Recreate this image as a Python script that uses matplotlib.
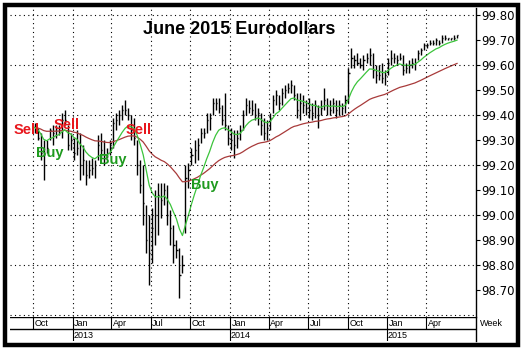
import pandas as pd
import matplotlib
matplotlib.use('Agg')
import matplotlib.pyplot as plt
import matplotlib.dates as mdates
from matplotlib.patches import Rectangle

# weekly bars, June 2015 Eurodollar futures
first_week = '2012-10-05'
highs = [99.37, 99.35, 99.33, 99.30, 99.30, 99.35, 99.36, 99.36, 99.36, 99.41,
         99.42, 99.36, 99.33, 99.31, 99.34, 99.33, 99.28, 99.22, 99.22, 99.23,
         99.22, 99.32, 99.33, 99.30, 99.27, 99.30, 99.39, 99.41, 99.42, 99.44,
         99.46, 99.43, 99.40, 99.39, 99.30, 99.22, 99.20, 99.04, 99.00, 99.03,
         99.10, 99.13, 99.13, 99.13, 99.12, 99.02, 98.96, 98.90, 98.87, 98.84,
         99.20, 99.21, 99.27, 99.30, 99.31, 99.35, 99.35, 99.41, 99.41, 99.47,
         99.47, 99.47, 99.44, 99.49, 99.36, 99.35, 99.34, 99.34, 99.36, 99.42,
         99.47, 99.46, 99.46, 99.45, 99.43, 99.41, 99.39, 99.38, 99.41, 99.48,
         99.50, 99.48, 99.51, 99.52, 99.53, 99.54, 99.52, 99.49, 99.49, 99.48,
         99.46, 99.47, 99.45, 99.46, 99.44, 99.46, 99.51, 99.47, 99.46, 99.47,
         99.46, 99.46, 99.45, 99.48, 99.59, 99.67, 99.64, 99.65, 99.63, 99.64,
         99.65, 99.67, 99.65, 99.60, 99.60, 99.61, 99.58, 99.63, 99.66, 99.65,
         99.64, 99.65, 99.64, 99.61, 99.62, 99.63, 99.63, 99.66, 99.67, 99.69,
         99.69, 99.70, 99.70, 99.71, 99.70, 99.72, 99.72, 99.71, 99.71, 99.72,
         99.72]
lows = [99.33, 99.30, 99.22, 99.14, 99.25, 99.30, 99.28, 99.31, 99.32, 99.31,
        99.36, 99.26, 99.26, 99.22, 99.24, 99.14, 99.16, 99.12, 99.15, 99.16,
        99.15, 99.22, 99.23, 99.20, 99.23, 99.24, 99.27, 99.34, 99.36, 99.38,
        99.40, 99.38, 99.30, 99.28, 99.16, 99.09, 98.96, 98.85, 98.72, 98.81,
        98.88, 98.92, 98.99, 99.04, 98.96, 98.88, 98.81, 98.83, 98.67, 98.77,
        98.93, 99.11, 99.20, 99.21, 99.22, 99.29, 99.31, 99.33, 99.34, 99.40,
        99.42, 99.41, 99.36, 99.34, 99.28, 99.26, 99.23, 99.27, 99.30, 99.34,
        99.40, 99.41, 99.40, 99.38, 99.36, 99.32, 99.30, 99.30, 99.34, 99.41,
        99.44, 99.42, 99.44, 99.47, 99.49, 99.49, 99.46, 99.39, 99.38, 99.41,
        99.40, 99.39, 99.38, 99.39, 99.35, 99.40, 99.42, 99.40, 99.40, 99.41,
        99.39, 99.40, 99.40, 99.41, 99.45, 99.59, 99.59, 99.60, 99.59, 99.58,
        99.61, 99.60, 99.55, 99.53, 99.54, 99.53, 99.52, 99.56, 99.60, 99.61,
        99.60, 99.62, 99.56, 99.57, 99.57, 99.59, 99.58, 99.62, 99.64, 99.66,
        99.67, 99.68, 99.68, 99.68, 99.68, 99.69, 99.70, 99.70, 99.70, 99.70,
        99.71]
closes = [99.35, 99.31, 99.25, 99.20, 99.27, 99.34, 99.33, 99.35, 99.34, 99.38,
          99.38, 99.28, 99.30, 99.25, 99.27, 99.20, 99.22, 99.16, 99.18, 99.19,
          99.20, 99.28, 99.26, 99.24, 99.25, 99.28, 99.37, 99.38, 99.40, 99.42,
          99.42, 99.40, 99.34, 99.31, 99.20, 99.12, 99.05, 98.90, 98.85, 98.95,
          99.00, 99.08, 99.06, 99.10, 99.00, 98.95, 98.88, 98.86, 98.76, 98.80,
          99.15, 99.18, 99.24, 99.26, 99.28, 99.33, 99.33, 99.38, 99.39, 99.45,
          99.45, 99.43, 99.38, 99.36, 99.31, 99.30, 99.28, 99.31, 99.34, 99.40,
          99.44, 99.43, 99.42, 99.40, 99.41, 99.36, 99.33, 99.35, 99.39, 99.46,
          99.48, 99.45, 99.49, 99.50, 99.51, 99.52, 99.48, 99.42, 99.45, 99.44,
          99.43, 99.42, 99.41, 99.44, 99.40, 99.43, 99.46, 99.44, 99.42, 99.45,
          99.42, 99.44, 99.43, 99.46, 99.57, 99.63, 99.62, 99.61, 99.60, 99.62,
          99.63, 99.64, 99.58, 99.56, 99.56, 99.55, 99.56, 99.61, 99.63, 99.63,
          99.62, 99.63, 99.58, 99.59, 99.60, 99.61, 99.61, 99.65, 99.66, 99.68,
          99.68, 99.69, 99.69, 99.70, 99.69, 99.71, 99.71, 99.71, 99.71, 99.71,
          99.72]

sell_dates = ['2012-09-17', '2012-12-19', '2013-06-04']
sell_prices = [99.34, 99.36, 99.34]
buy_dates = ['2012-11-09', '2013-04-05', '2013-11-04']
buy_prices = [99.25, 99.22, 99.12]

month_ticks = ['2012-10-01', '2013-01-01', '2013-04-01', '2013-07-01', '2013-10-01',
               '2014-01-01', '2014-04-01', '2014-07-01', '2014-10-01', '2015-01-01',
               '2015-04-01']
month_labels = ['Oct', 'Jan', 'Apr', 'Jul', 'Oct', 'Jan', 'Apr', 'Jul', 'Oct', 'Jan', 'Apr']
year_ticks = ['2013-01-01', '2014-01-01', '2015-01-01']
year_labels = ['2013', '2014', '2015']

dates = pd.date_range(first_week, periods=len(closes), freq='7D')
x = mdates.date2num(dates)
close_s = pd.Series(closes)
# exponential averages of the weekly closes
ma_fast = close_s.ewm(span=10, adjust=False).mean()
ma_slow = close_s.ewm(span=45, adjust=False).mean()

W, H = 525, 354
fig = plt.figure(figsize=(W / 100, H / 100), dpi=100)
fig.patch.set_facecolor('white')

x0 = mdates.date2num(pd.Timestamp('2012-08-09'))
x1 = mdates.date2num(pd.Timestamp('2015-07-26'))

ax = fig.add_axes([10 / W, 1 - 317 / H, 466 / W, 309 / H])
ax.set_xlim(x0, x1)
ax.set_ylim(98.592, 99.828)

ax.vlines(x, lows, highs, color='black', lw=1.0)
ax.hlines(closes, x, x + 2.6, color='black', lw=1.0)
ax.plot(x, ma_slow, color='#a83a3a', lw=0.9)
ax.plot(x, ma_fast, color='#3cc43c', lw=0.9)

for d, p in zip(sell_dates, sell_prices):
    ax.text(mdates.date2num(pd.Timestamp(d)), p, 'Sell', color='#e8161c', fontsize=10.5,
            fontweight='heavy', family='Liberation Sans', ha='center', va='center')
for d, p in zip(buy_dates, buy_prices):
    ax.text(mdates.date2num(pd.Timestamp(d)), p, 'Buy', color='#1e9a1e', fontsize=10.5,
            fontweight='heavy', family='Liberation Sans', ha='center', va='center')

# dotted grid
mt = mdates.date2num(pd.to_datetime(month_ticks))
for v in [99.8, 99.6, 99.4, 99.2, 99.0, 98.8, 98.6]:
    ax.axhline(v, color='black', lw=0.8, ls=(0, (1, 3)))
for v in mt:
    ax.axvline(v, color='black', lw=0.8, ls=(0, (1, 3)))

for s in ['top', 'left', 'bottom']:
    ax.spines[s].set_visible(False)
ax.spines['right'].set_linewidth(1.0)
ax.set_xticks([])
ax.yaxis.tick_right()
ax.set_yticks([98.7 + 0.1 * k for k in range(12)])
ax.set_yticklabels(['%.2f' % (98.7 + 0.1 * k) for k in range(12)],
                   fontsize=8.5, family='DejaVu Sans')
ax.tick_params(axis='y', direction='out', length=3, width=0.8, pad=1)

# month / year band
band = fig.add_axes([10 / W, 1 - 341 / H, 466 / W, 24 / H])
band.set_xlim(x0, x1)
band.set_ylim(0, 2)
band.axhline(2, color='black', lw=1.0)
band.axhline(1, color='black', lw=1.0)
band.vlines(mt, 1, 2, color='black', lw=0.8)
for v, lab in zip(mt, month_labels):
    band.text(v + 4, 1.45, lab, fontsize=6.5, family='Liberation Sans', va='center')
yt = mdates.date2num(pd.to_datetime(year_ticks))
band.vlines(yt, 0, 1, color='black', lw=0.8)
for v, lab in zip(yt, year_labels):
    band.text(v + 2, 0.5, lab, fontsize=6.5, family='Liberation Sans', va='center')
for s in ['top', 'left', 'bottom']:
    band.spines[s].set_visible(False)
band.spines['right'].set_linewidth(1.0)
band.set_xticks([])
band.set_yticks([])
band.patch.set_alpha(0)

fig.text(480 / W, 1 - 324 / H, 'Week', fontsize=6.5, family='Liberation Sans', va='center')
fig.text(239 / W, 1 - 29 / H, 'June 2015 Eurodollars', fontsize=13, fontweight='bold',
         family='Liberation Sans', ha='center', va='center')

fig.patches.append(Rectangle((5 / W, 1 - 345 / H), 513 / W, 340 / H, transform=fig.transFigure,
                             fill=False, edgecolor='black', lw=3.2))

fig.savefig('out.png', dpi=100)
